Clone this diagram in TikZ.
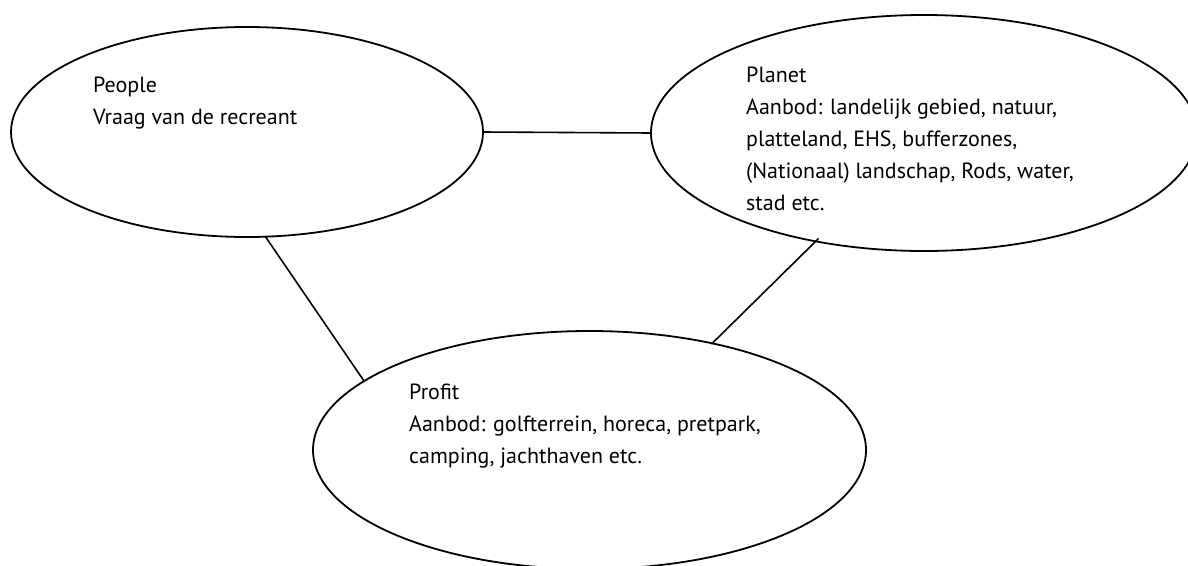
\documentclass[tikz,border=0pt]{standalone}
\usepackage{fontspec}
\setmainfont{PT Sans}
\usetikzlibrary{shapes.geometric}
\begin{document}
\begin{tikzpicture}[x=1pt,y=-1pt,
  oval/.style={draw, ellipse, line width=1.8pt, inner sep=0pt, outer sep=0pt},
  txt/.style={anchor=base west, align=left, inner sep=0pt, font=\fontsize{22}{32}\selectfont},
  link/.style={line width=1.6pt}]
\useasboundingbox (0,0) rectangle (1188,565);
\clip (0,0) rectangle (1188,565);
\node[oval, minimum width=472pt, minimum height=210pt] (people) at (247,132) {};
\node[oval, minimum width=546pt, minimum height=236pt] (planet) at (924,133) {};
\node[oval, minimum width=553pt, minimum height=238pt] (profit) at (589.5,450) {};
% base anchor = baseline of the last line
\node[txt] (peopletxt) at (93,124) {People\\Vraag van de recreant};
\node[txt] (planettxt) at (746,210) {Planet\\Aanbod: landelijk gebied, natuur,\\platteland, EHS, bufferzones,\\(Nationaal) landschap, Rods, water,\\stad etc.};
\node[txt] (profittxt) at (409,463) {Profit\\Aanbod: golfterrein, horeca, pretpark,\\camping, jachthaven etc.};
\draw[link] (people.-0.7) -- (planet.180.5);
\draw[link] (people.-80) -- (profit.163);
\draw[link, shorten <=-4pt, shorten >=-1pt] (planet.225) -- (profit.41.5);
\end{tikzpicture}
\end{document}
